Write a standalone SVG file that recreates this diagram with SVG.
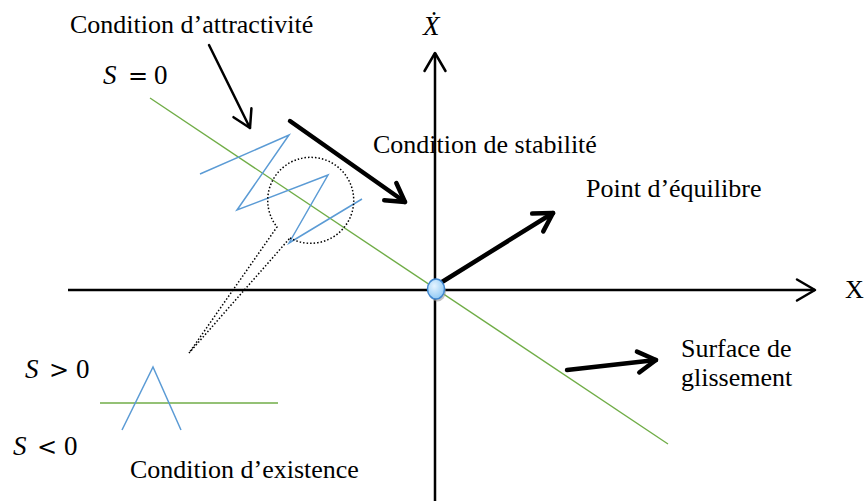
<svg xmlns="http://www.w3.org/2000/svg" width="864" height="501" viewBox="0 0 864 501">
<style>
.t{font-family:"Liberation Serif","Times New Roman",serif;font-size:26px;fill:#000}
.m{font-family:"Liberation Serif","DejaVu Serif",serif;font-size:27px;fill:#000}
.op{font-family:"DejaVu Serif",serif;font-size:24px}
.ax{stroke:#000;stroke-width:2.5;fill:none}
.big{stroke:#000;stroke-width:4.5;fill:none;stroke-linecap:round}
.thin{stroke:#000;stroke-width:2.5;fill:none;stroke-linecap:round}
.head{fill:none;stroke:#000;stroke-linecap:round;stroke-linejoin:round}
.green{stroke:#70AD47;stroke-width:1.4;fill:none}
.blue{stroke:#5B9BD5;stroke-width:1.5;fill:none;stroke-linejoin:miter}
.dot{stroke:#000;stroke-width:1.5;fill:none;stroke-dasharray:1.5 2}
</style>
<defs>
<marker id="hBig" markerUnits="userSpaceOnUse" markerWidth="30" markerHeight="30" viewBox="-22 -15 26 30" refX="0" refY="0" orient="auto" overflow="visible">
<path class="head" d="M-18,-10.5 L0,0 L-18,10.5" stroke-width="4.5"/>
</marker>
<marker id="hThin" markerUnits="userSpaceOnUse" markerWidth="30" markerHeight="30" viewBox="-22 -15 26 30" refX="0" refY="0" orient="auto" overflow="visible">
<path class="head" d="M-17,-10 L0,0 L-17,10" stroke-width="2.5"/>
</marker>
<marker id="hAx" markerUnits="userSpaceOnUse" markerWidth="30" markerHeight="30" viewBox="-22 -15 26 30" refX="0" refY="0" orient="auto" overflow="visible">
<path class="head" d="M-18,-10.5 L0,0 L-18,10.5" stroke-width="2.5"/>
</marker>
<radialGradient id="gBall" cx="0.4" cy="0.35" r="0.7">
<stop offset="0" stop-color="#e6f4ff"/>
<stop offset="1" stop-color="#8cc8f5"/>
</radialGradient>
</defs>

<g id="axes">
<line class="ax" x1="68" y1="290" x2="815" y2="290" marker-end="url(#hAx)"/>
<line class="ax" x1="435" y1="501" x2="435" y2="53" marker-end="url(#hAx)"/>
</g>

<g id="surface">
<line class="green" x1="150" y1="98" x2="668" y2="444"/>
</g>

<g id="zigzag">
<polyline class="blue" points="200,174 289,135 237,210 328,175 289,243 362,199"/>
<path class="dot" d="M290,238 A43,43 0 1 0 277,227 L189,353 L290,238"/>
</g>

<g id="legend">
<line class="green" x1="100" y1="403" x2="278" y2="403"/>
<polyline class="blue" points="122,430 153,367 181,430"/>
</g>

<g id="connectors">
<line class="thin" x1="209" y1="45" x2="250" y2="128" marker-end="url(#hThin)"/>
<line class="big" x1="290" y1="121" x2="405" y2="202" marker-end="url(#hBig)"/>
<line class="big" x1="442" y1="282" x2="553" y2="213" marker-end="url(#hBig)"/>
<line class="big" x1="567" y1="370" x2="656" y2="360" marker-end="url(#hBig)"/>
</g>

<g id="origin">
<ellipse cx="437.5" cy="291.5" rx="8.5" ry="10" fill="#9a9a9a" opacity="0.6"/>
<ellipse cx="436" cy="289" rx="8.5" ry="10" fill="url(#gBall)" stroke="#3f86cf" stroke-width="1.5"/>
</g>

<g id="labels">
<text class="t" x="70" y="33">Condition d’attractivité</text>
<text class="t" x="373" y="153">Condition de stabilité</text>
<text class="t" x="586" y="197">Point d’équilibre</text>
<text class="t" x="681" y="357">Surface de</text>
<text class="t" x="681" y="386">glissement</text>
<text class="t" x="130" y="478">Condition d’existence</text>
<text class="t" x="845" y="298" font-size="23">X</text>
<text class="m" x="423" y="35" font-style="italic">Ẋ</text>
<text class="m" x="103" y="84"><tspan font-style="italic">S</tspan><tspan class="op" x="128">=</tspan><tspan x="154">0</tspan></text>
<text class="m" x="25" y="378"><tspan font-style="italic">S</tspan><tspan class="op" x="49">&gt;</tspan><tspan x="76">0</tspan></text>
<text class="m" x="13" y="455"><tspan font-style="italic">S</tspan><tspan class="op" x="37">&lt;</tspan><tspan x="64">0</tspan></text>
</g>
</svg>
